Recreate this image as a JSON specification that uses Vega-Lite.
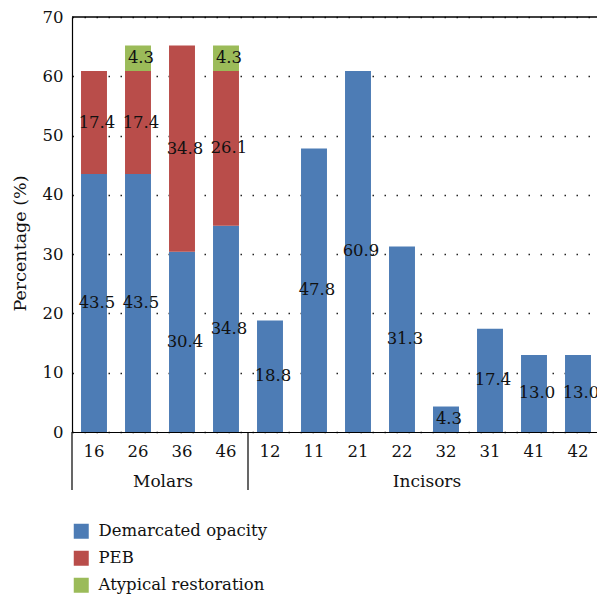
{
  "$schema": "https://vega.github.io/schema/vega-lite/v6.json",
  "width": 525,
  "height": 415,
  "autosize": "none",
  "padding": {"left": 72, "top": 17, "right": 0, "bottom": 166},
  "config": {
    "font": "DejaVu Serif",
    "view": {"stroke": null},
    "axis": {"labelFont": "DejaVu Serif", "titleFont": "DejaVu Serif", "labelColor": "#111", "titleColor": "#111"},
    "legend": {"labelFont": "DejaVu Serif"}
  },
  "datasets": {
    "main": [
      {"tooth": "16", "type": "Demarcated opacity", "value": 43.5},
      {"tooth": "16", "type": "PEB", "value": 17.4},
      {"tooth": "26", "type": "Demarcated opacity", "value": 43.5},
      {"tooth": "26", "type": "PEB", "value": 17.4},
      {"tooth": "26", "type": "Atypical restoration", "value": 4.3},
      {"tooth": "36", "type": "Demarcated opacity", "value": 30.4},
      {"tooth": "36", "type": "PEB", "value": 34.8},
      {"tooth": "46", "type": "Demarcated opacity", "value": 34.8},
      {"tooth": "46", "type": "PEB", "value": 26.1},
      {"tooth": "46", "type": "Atypical restoration", "value": 4.3},
      {"tooth": "12", "type": "Demarcated opacity", "value": 18.8},
      {"tooth": "11", "type": "Demarcated opacity", "value": 47.8},
      {"tooth": "21", "type": "Demarcated opacity", "value": 60.9},
      {"tooth": "22", "type": "Demarcated opacity", "value": 31.3},
      {"tooth": "32", "type": "Demarcated opacity", "value": 4.3},
      {"tooth": "31", "type": "Demarcated opacity", "value": 17.4},
      {"tooth": "41", "type": "Demarcated opacity", "value": 13.0},
      {"tooth": "42", "type": "Demarcated opacity", "value": 13.0}
    ],
    "groups": [
      {"group": "Molars", "boundary": "36"},
      {"group": "Incisors", "boundary": "32"}
    ],
    "dividers": [
      {"boundary": "16"},
      {"boundary": "12"}
    ]
  },
  "layer": [
    {
      "data": {"name": "main"},
      "transform": [
        {"calculate": "indexof(['Demarcated opacity','PEB','Atypical restoration'], datum.type)", "as": "rank"},
        {"stack": "value", "groupby": ["tooth"], "sort": [{"field": "rank", "order": "ascending"}], "as": ["v0", "v1"]},
        {"calculate": "(datum.v0 + datum.v1) / 2", "as": "mid"}
      ],
      "layer": [
        {
          "mark": {"type": "bar", "width": {"band": 0.59}},
          "encoding": {
            "x": {
              "field": "tooth", "type": "nominal",
              "scale": {"domain": ["16","26","36","46","12","11","21","22","32","31","41","42"], "range": [0, 528], "paddingInner": 0, "paddingOuter": 0},
              "axis": {"title": null, "ticks": false, "tickSize": 0, "labelFontSize": 16.5, "labelPadding": 19.5, "labelBaseline": "middle", "labelAngle": 0, "domainColor": "black", "domainWidth": 1.2, "grid": false, "labelOverlap": false}
            },
            "y": {
              "field": "v0", "type": "quantitative",
              "scale": {"domain": [0, 70], "nice": false},
              "axis": {"title": "Percentage (%)", "values": [0,10,20,30,40,50,60,70], "ticks": false, "tickSize": 0, "labelFontSize": 16.5, "labelPadding": 9, "domainColor": "black", "domainWidth": 1.2, "grid": true, "gridColor": "#222", "gridDash": [1.5, 10.5], "gridWidth": 1.5, "titleFontSize": 17.5, "titleFontWeight": "normal", "titleX": -52, "titleY": 226, "titleBaseline": "middle"}
            },
            "y2": {"field": "v1"},
            "color": {
              "field": "type", "type": "nominal",
              "scale": {"domain": ["Demarcated opacity", "PEB", "Atypical restoration"], "range": ["#4D7CB5", "#B94D4A", "#9BBB59"]},
              "legend": {"title": null, "orient": "none", "legendX": 1, "legendY": 506, "direction": "vertical", "symbolType": "square", "symbolSize": 225, "symbolStrokeWidth": 0, "labelFont": "DejaVu Serif", "labelFontSize": 16.5, "labelOffset": 9, "labelLimit": 400, "rowPadding": 10, "padding": 0, "labelColor": "#111"}
            }
          }
        },
        {
          "mark": {"type": "text", "font": "DejaVu Serif", "fontSize": 16.5, "dx": 3, "color": "#111", "baseline": "middle"},
          "encoding": {
            "x": {"field": "tooth", "type": "nominal"},
            "y": {"field": "mid", "type": "quantitative", "scale": {"domain": [0, 70], "nice": false}},
            "text": {"field": "value", "type": "quantitative", "format": ".1f"}
          }
        }
      ]
    },
    {
      "data": {"name": "dividers"},
      "mark": {"type": "rule", "color": "black", "strokeWidth": 1.2},
      "encoding": {
        "x": {"field": "boundary", "type": "nominal", "bandPosition": 0},
        "y": {"datum": 0, "type": "quantitative", "scale": {"domain": [0, 70], "nice": false}},
        "y2": {"datum": -9.8}
      }
    },
    {
      "data": {"name": "groups"},
      "mark": {"type": "text", "font": "DejaVu Serif", "fontSize": 17, "dx": 3, "baseline": "middle", "color": "#111"},
      "encoding": {
        "x": {"field": "boundary", "type": "nominal", "bandPosition": 0},
        "y": {"datum": -8.5, "type": "quantitative", "scale": {"domain": [0, 70], "nice": false}},
        "text": {"field": "group"}
      }
    },
    {
      "data": {"values": [{}]},
      "mark": {"type": "rule", "color": "black", "strokeWidth": 1.5},
      "encoding": {
        "y": {"datum": 70, "type": "quantitative", "scale": {"domain": [0, 70], "nice": false}}
      }
    }
  ]
}
